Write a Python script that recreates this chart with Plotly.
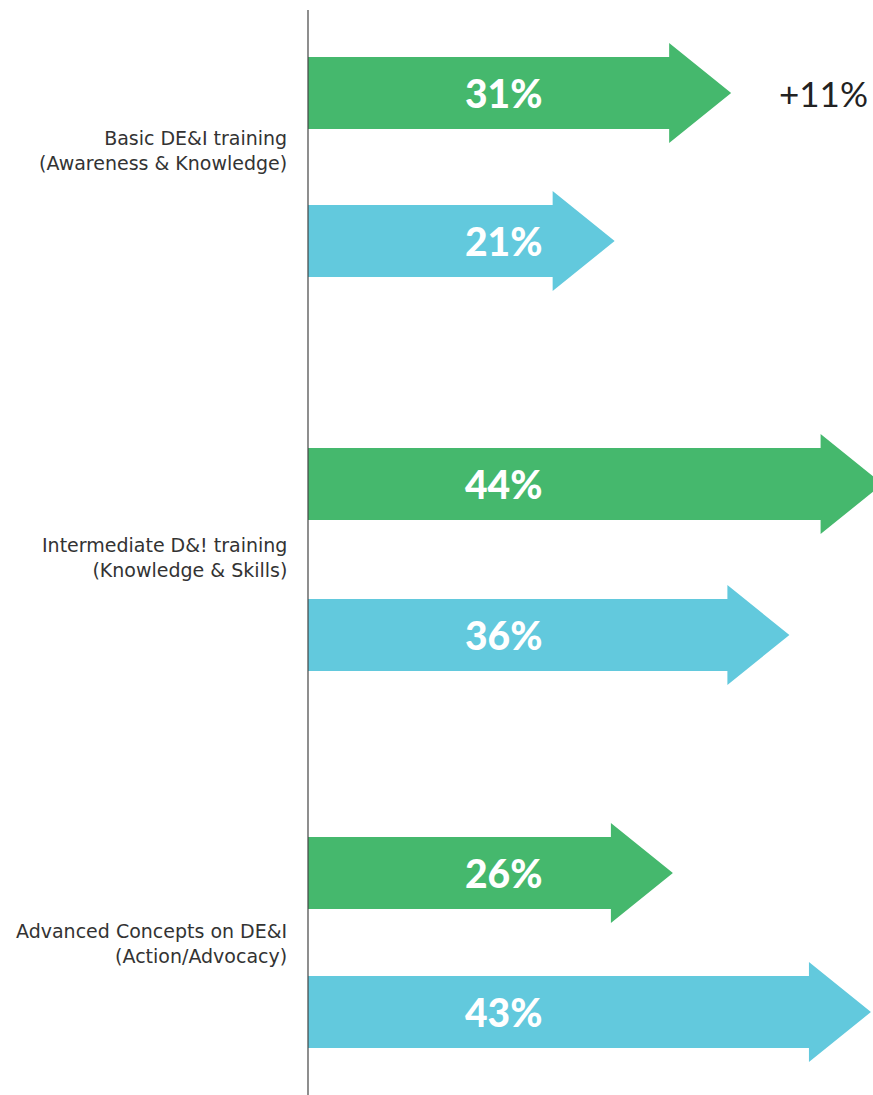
import plotly.graph_objects as go

# Training levels (one group per level, two arrows per group)
categories = [
    "Basic DE&I training<br>(Awareness & Knowledge)",
    "Intermediate D&! training<br>(Knowledge & Skills)",
    "Advanced Concepts on DE&I<br>(Action/Advocacy)",
]
green_values = [31, 44, 26]
blue_values = [21, 36, 43]
change_labels = ["+11%", "", ""]

GREEN = "#45B86D"
BLUE = "#62C9DD"

W, H = 873, 1095
PX_PER_UNIT = 11.65          # horizontal pixels per percentage point
ORIGIN_PX = 308              # axis position in pixels

# vertical layout (pixels from the top): row centres of green / blue arrows
GREEN_ROW_PX = [93, 484, 873]
BLUE_ROW_PX = [241, 635, 1012]
LABEL_ROW_PX = [150, 557, 943]

HEAD_LEN = 62 / PX_PER_UNIT  # arrowhead length in x units
BAR_HALF = 36                # px
HEAD_HALF = 50               # px


def arrow_trace(value, yc, color):
    xs = [0, value, value, value + HEAD_LEN, value, value, 0, 0]
    ys = [yc - BAR_HALF, yc - BAR_HALF, yc - HEAD_HALF, yc,
          yc + HEAD_HALF, yc + BAR_HALF, yc + BAR_HALF, yc - BAR_HALF]
    return go.Scatter(x=xs, y=ys, fill="toself", fillcolor=color,
                      mode="lines", line=dict(width=0, color=color),
                      hoverinfo="skip", showlegend=False)


fig = go.Figure()
annotations = []
label_x = (545 - ORIGIN_PX) / PX_PER_UNIT

for i, cat in enumerate(categories):
    yg = GREEN_ROW_PX[i]
    yb = BLUE_ROW_PX[i]
    fig.add_trace(arrow_trace(green_values[i], yg, GREEN))
    fig.add_trace(arrow_trace(blue_values[i], yb, BLUE))
    for v, y in ((green_values[i], yg), (blue_values[i], yb)):
        annotations.append(dict(
            x=label_x, y=y, xref="x", yref="y", text=f"{v}%",
            showarrow=False, xanchor="right", yanchor="middle",
            font=dict(family="Lato", size=39, color="white", weight=900)))
    annotations.append(dict(
        x=-19 / PX_PER_UNIT, y=LABEL_ROW_PX[i],
        xref="x", yref="y", text=cat, showarrow=False,
        xanchor="right", yanchor="middle", align="right",
        font=dict(family="DejaVu Sans", size=19, color="#333333")))
    if change_labels[i]:
        annotations.append(dict(
            x=(777 - ORIGIN_PX) / PX_PER_UNIT, y=yg, xref="x", yref="y",
            text=change_labels[i], showarrow=False, xanchor="left",
            yanchor="middle",
            font=dict(family="Lato", size=35, color="#222222")))

x_range = [-ORIGIN_PX / PX_PER_UNIT, (W - ORIGIN_PX) / PX_PER_UNIT]
y_range = [H, 0]

fig.add_shape(type="line", xref="x", yref="y", x0=0, x1=0,
              y0=10, y1=H,
              line=dict(color="#444444", width=1.2), layer="above")

fig.update_layout(
    width=W, height=H,
    margin=dict(l=0, r=0, t=0, b=0),
    paper_bgcolor="white", plot_bgcolor="white",
    xaxis=dict(range=x_range, visible=False, fixedrange=True),
    yaxis=dict(range=y_range, visible=False, fixedrange=True),
    annotations=annotations,
)

fig.write_html("out.html")
